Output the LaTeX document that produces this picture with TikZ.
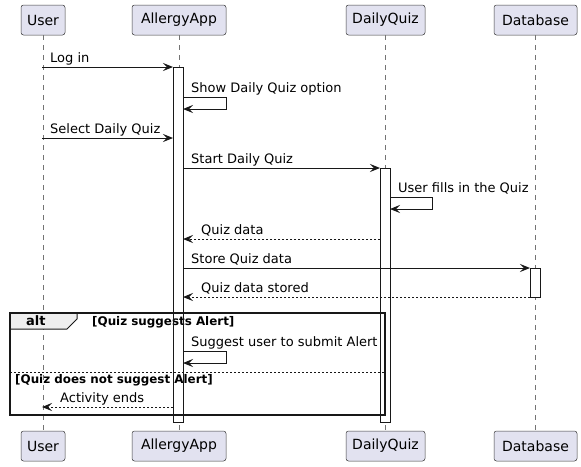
\documentclass[tikz,border=0pt]{standalone}
\usepackage{fontspec}
\setmainfont{DejaVu Sans}
\usetikzlibrary{arrows.meta}
\definecolor{partfill}{HTML}{E2E2F0}
\definecolor{bordc}{HTML}{181818}
\definecolor{tabfill}{HTML}{EEEEEE}
\begin{document}
\begin{tikzpicture}[x=1pt,y=-1pt,
 part/.style={draw=bordc!85, line width=0.5pt, fill=partfill, rounded corners=2.5pt, minimum height=30pt, inner sep=0pt, font=\fontsize{14}{16}\selectfont},
 lifeline/.style={draw=bordc!60, line width=0.5pt, dash pattern=on 5pt off 5pt},
 actfill/.style={fill=white},
 actline/.style={draw=bordc, line width=0.8pt},
 msg/.style={draw=bordc, line width=1pt, -{Stealth[length=10pt,width=8pt,inset=4pt]}},
 ret/.style={msg, dash pattern=on 2pt off 2pt},
 lbl/.style={inner sep=0pt, anchor=base west, font=\fontsize{13}{15}\selectfont},
 cond/.style={inner sep=0pt, anchor=base west, font=\bfseries\fontsize{11.9}{13}\selectfont},
]
\useasboundingbox (0,0) rectangle (581,466);
% participants
\node[part, minimum width=44pt] (uT) at (43,20) {User};
\node[part, minimum width=94pt] (aT) at (179,20) {AllergyApp};
\node[part, minimum width=79pt] (dT) at (385.5,20) {DailyQuiz};
\node[part, minimum width=83pt] (bT) at (535.5,20) {Database};
\node[part, minimum width=44pt] (uB) at (43,446) {User};
\node[part, minimum width=94pt] (aB) at (179,446) {AllergyApp};
\node[part, minimum width=79pt] (dB) at (385.5,446) {DailyQuiz};
\node[part, minimum width=83pt] (bB) at (535.5,446) {Database};
% lifelines
\draw[lifeline] (uT.south) -- (uB.north);
\draw[lifeline] (aT.south) -- (aB.north);
\draw[lifeline] (dT.south) -- (dB.north);
\draw[lifeline] (bT.south) -- (bB.north);
% activation fills
\fill[actfill] (173,67) rectangle (183,422);
\fill[actfill] (380,168) rectangle (390,422);
\fill[actfill] (530,268) rectangle (540,297);
% alt frame
\draw[bordc, line width=1pt, fill=tabfill] (10,313) -- (77,313) -- (77,319) -- (67,329) -- (10,329) -- cycle;
\draw[bordc, line width=1.5pt] (10,313) rectangle (385,415);
\node[inner sep=0pt, anchor=base west, font=\bfseries\fontsize{13}{15}\selectfont] (altlbl) at (26,325) {alt};
\node[cond] (c1) at (92,325.5) {[Quiz suggests Alert]};
\draw[bordc, line width=0.8pt, dash pattern=on 2pt off 2pt] (10,372) -- (385,372);
\node[cond] (c2) at (15,383) {[Quiz does not suggest Alert]};
% activation outlines
\draw[actline] (173,67) rectangle (183,422);
\draw[actline] (380,168) rectangle (390,422);
\draw[actline] (530,268) rectangle (540,297);
% message endpoints
\coordinate (m1a) at (42,67);  \coordinate (m1b) at (173,67);
\coordinate (m3a) at (42,138); \coordinate (m3b) at (173,138);
\coordinate (m4a) at (183,168); \coordinate (m4b) at (380,168);
\coordinate (m6a) at (380,239); \coordinate (m6b) at (183,239);
\coordinate (m7a) at (183,268); \coordinate (m7b) at (530,268);
\coordinate (m8a) at (530,297); \coordinate (m8b) at (183,297);
\coordinate (m10a) at (173,407); \coordinate (m10b) at (42,407);
% messages
\draw[msg] (m1a) -- (m1b);
\node[lbl] (l1) at (50,62) {Log in};
\draw[msg] (183,97) -- (226,97) -- (226,109) -- (183,109);
\node[lbl] (l2) at (191,92) {Show Daily Quiz option};
\draw[msg] (m3a) -- (m3b);
\node[lbl] (l3) at (50,133) {Select Daily Quiz};
\draw[msg] (m4a) -- (m4b);
\node[lbl] (l4) at (191,163) {Start Daily Quiz};
\draw[msg] (390,197) -- (432,197) -- (432,209) -- (390,209);
\node[lbl] (l5) at (398,192) {User fills in the Quiz};
\draw[ret] (m6a) -- (m6b);
\node[lbl] (l6) at (201,234) {Quiz data};
\draw[msg] (m7a) -- (m7b);
\node[lbl] (l7) at (191,263) {Store Quiz data};
\draw[ret] (m8a) -- (m8b);
\node[lbl] (l8) at (201,292) {Quiz data stored};
\draw[msg] (183,351) -- (226,351) -- (226,363) -- (183,363);
\node[lbl] (l9) at (191,346) {Suggest user to submit Alert};
\draw[ret] (m10a) -- (m10b);
\node[lbl] (l10) at (60,402) {Activity ends};
\end{tikzpicture}
\end{document}
